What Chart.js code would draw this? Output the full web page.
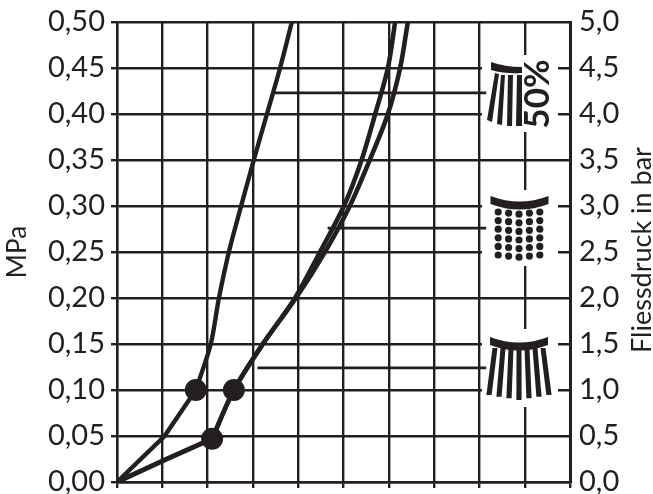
<!DOCTYPE html>
<html>
<head>
<meta charset="utf-8">
<style>html,body{margin:0;padding:0;background:#fff}#wrap{width:653px;height:494px}</style>
<script src="https://cdn.jsdelivr.net/npm/chart.js@4"></script>
</head>
<body>
<div id="wrap"><canvas id="c" width="653" height="494"></canvas></div>
<script>
// values: x in grid divisions, y in MPa
const steepLowX = [0, 1.05, 1.74];
const steepLowY = [0, 0.05, 0.10];
const steepX = [1.74, 2.07, 2.25, 2.47, 2.74, 3.02, 3.31, 3.6, 3.86];
const steepY = [0.10, 0.15, 0.20, 0.25, 0.30, 0.35, 0.40, 0.45, 0.50];
const lowX = [0, 1.05, 2.1];
const lowY = [0, 0.024, 0.047];
const innerX = [2.1, 2.58, 3.22, 3.93, 4.48, 5.01, 5.4, 5.7, 5.98, 6.14];
const innerY = [0.047, 0.10, 0.15, 0.20, 0.25, 0.30, 0.35, 0.40, 0.45, 0.50];
const outerX = [2.1, 2.58, 3.22, 3.95, 4.59, 5.14, 5.58, 5.98, 6.25, 6.42];
const outerY = [0.047, 0.10, 0.15, 0.20, 0.25, 0.30, 0.35, 0.40, 0.45, 0.50];
const dotX = [1.74, 2.58, 2.1];
const dotY = [0.10, 0.10, 0.047];
const leaderX = [[3.47, 8.15], [4.65, 8.15], [3.1, 8.15]];
const leaderY = [0.423, 0.276, 0.124];
const leftTicks = ['0,00','0,05','0,10','0,15','0,20','0,25','0,30','0,35','0,40','0,45','0,50'];
const rightTicks = ['0,0','0,5','1,0','1,5','2,0','2,5','3,0','3,5','4,0','4,5','5,0'];

const INK = '#231f20';
const FONT = 'Lato, "Open Sans", sans-serif';

const pts = (xs, ys) => xs.map((x, i) => ({ x, y: ys[i] }));
const line = (data, borderWidth, tension) => ({
  data, showLine: true, borderColor: INK, borderWidth, pointRadius: 0, tension, order: 2,
});

// white knockouts, shower head icons, 50% label, right axis title
const decor = {
  id: 'decor',
  beforeDatasetsDraw(chart) {
    const { ctx } = chart;
    ctx.save();
    ctx.fillStyle = '#fff';
    ctx.fillRect(482, 55, 76, 77);
    ctx.fillRect(482, 190, 76, 76);
    ctx.fillRect(482, 329, 76, 78);
    ctx.restore();
  },
  afterDraw(chart) {
    const { ctx } = chart;
    ctx.save();
    ctx.fillStyle = INK;

    const poly = (...p) => {
      ctx.beginPath();
      ctx.moveTo(p[0], p[1]);
      for (let i = 2; i < p.length; i += 2) ctx.lineTo(p[i], p[i + 1]);
      ctx.closePath();
      ctx.fill();
    };
    const arc = (cx, top, half, sag) => {
      ctx.beginPath();
      ctx.moveTo(cx - half, top);
      ctx.quadraticCurveTo(cx, top + sag, cx + half, top);
      ctx.lineTo(cx + half, top + 8);
      ctx.quadraticCurveTo(cx, top + sag + 8, cx - half, top + 8);
      ctx.closePath();
      ctx.fill();
    };

    // 50% head
    ctx.beginPath();
    ctx.moveTo(491, 62);
    ctx.quadraticCurveTo(505, 67, 522, 67);
    ctx.lineTo(522, 73);
    ctx.quadraticCurveTo(505, 74, 491, 70);
    ctx.closePath();
    ctx.fill();
    poly(495, 73, 499, 74, 492, 122, 487, 120);
    poly(501, 75, 505, 75, 502, 125, 497, 124);
    poly(508, 75, 513, 75, 512, 126, 507, 126);
    poly(517, 75, 522, 75, 522, 126, 516, 126);

    // dots head
    arc(519.5, 196, 29, 11);
    for (let r = 0; r < 6; r++) {
      for (let c = -2; c <= 2; c++) {
        ctx.beginPath();
        ctx.arc(519 + c * 10.4, 212 + r * 8.6 + (2 - Math.abs(c)) * 1.1, 3.6, 0, Math.PI * 2);
        ctx.fill();
      }
    }

    // full head
    arc(519, 337, 29, 11);
    for (let i = 0; i < 7; i++) {
      const t = i / 6 - 0.5;
      const tx = 519 + t * 48, bx = 519 + t * 60, by = 400 - Math.abs(t) * 10;
      poly(tx - 2.5, 348, tx + 2.5, 348, bx + 2.6, by, bx - 2.6, by);
    }

    ctx.font = 'bold 35px ' + FONT;
    ctx.textAlign = 'center';
    ctx.textBaseline = 'middle';
    ctx.translate(538, 94);
    ctx.rotate(-Math.PI / 2);
    ctx.fillText('50%', 0, 0);
    ctx.restore();

    ctx.save();
    ctx.fillStyle = INK;
    ctx.font = '27px ' + FONT;
    ctx.textAlign = 'center';
    ctx.textBaseline = 'middle';
    ctx.translate(642, 250);
    ctx.rotate(-Math.PI / 2);
    ctx.fillText('Fliessdruck in bar', 0, 0);
    ctx.restore();
  },
};

const noPad = s => { s.paddingTop = 0; s.paddingBottom = 0; };

new Chart(document.getElementById('c'), {
  type: 'scatter',
  data: {
    datasets: [
      line(pts(steepLowX, steepLowY), 4.4, 0),
      line(pts(steepX, steepY), 4.4, 0.3),
      line(pts(lowX, lowY), 5, 0),
      line(pts(innerX, innerY), 4.6, 0.3),
      line(pts(outerX, outerY), 4.6, 0.3),
      ...leaderX.map((xs, i) => ({
        data: xs.map(v => ({ x: v, y: leaderY[i] })), showLine: true,
        borderColor: INK, borderWidth: 2.6, pointRadius: 0, order: 3,
      })),
      {
        data: pts(dotX, dotY), pointRadius: 11, pointHoverRadius: 11,
        backgroundColor: INK, borderWidth: 0, showLine: false, order: 1,
      },
    ],
  },
  options: {
    responsive: false,
    animation: false,
    layout: { padding: { top: 22 } },
    plugins: { legend: { display: false }, tooltip: { enabled: false } },
    scales: {
      x: {
        type: 'linear', min: 0, max: 10,
        afterFit(s) { s.height = 12; s.paddingLeft = 0; s.paddingRight = 0; },
        ticks: { stepSize: 1, display: false },
        border: { color: INK, width: 2.4 },
        grid: { color: INK, lineWidth: 2.4, tickLength: 6 },
      },
      y: {
        type: 'linear', min: 0, max: 0.5,
        afterFit(s) { s.width = 117; noPad(s); },
        title: { display: true, text: 'MPa', color: INK, font: { family: FONT, size: 26 }, padding: { top: 2, bottom: 0 } },
        ticks: {
          stepSize: 0.05, color: INK, padding: 6, font: { family: FONT, size: 29 },
          callback: (v, i) => leftTicks[i],
        },
        border: { color: INK, width: 2.4 },
        grid: { color: INK, lineWidth: 2.4, tickLength: 6 },
      },
      y2: {
        position: 'right', type: 'linear', min: 0, max: 0.5,
        afterFit(s) { s.width = 83; noPad(s); },
        ticks: {
          stepSize: 0.05, color: INK, padding: 9, font: { family: FONT, size: 29 },
          callback: (v, i) => rightTicks[i],
        },
        border: { color: INK, width: 3 },
        grid: { drawOnChartArea: false, drawTicks: false, tickLength: 0 },
      },
    },
  },
  plugins: [decor],
});
</script>
</body>
</html>
